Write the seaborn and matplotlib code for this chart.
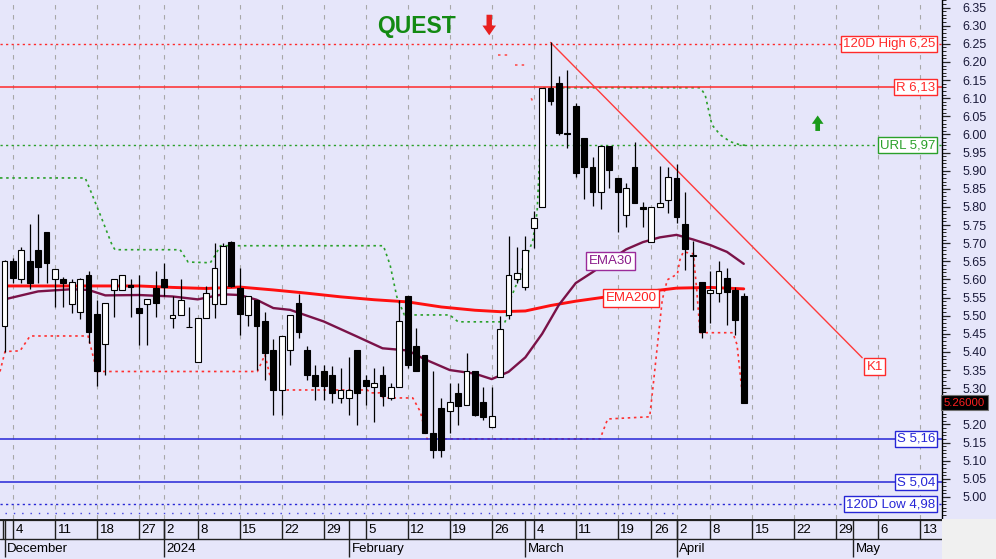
import numpy as np
import pandas as pd
import matplotlib
matplotlib.use("Agg")
import matplotlib.pyplot as plt
import matplotlib.ticker as mticker
import matplotlib.transforms as mtrans
from matplotlib.patches import Rectangle
import seaborn as sns

# ===============================
# Daten: Handelstage ab 01.12.2023 (Index 0), letzter Kurs 12.04.2024
# ===============================
opens = [5.472, 5.652, 5.601, 5.652, 5.680, 5.730, 5.600, 5.602, 5.532, 5.510,
         5.612, 5.505, 5.422, 5.571, 5.571, 5.585, 5.522, 5.532, 5.576, 5.602,
         5.493, 5.502, 5.468, 5.371, 5.493, 5.532, 5.532, 5.703, 5.576, 5.502,
         5.544, 5.484, 5.404, 5.295, 5.404, 5.534, 5.404, 5.337, 5.346, 5.337,
         5.272, 5.272, 5.404, 5.323, 5.304, 5.337, 5.272, 5.304, 5.553, 5.415,
         5.392, 5.176, 5.245, 5.236, 5.286, 5.254, 5.346, 5.262, 5.193, 5.331,
         5.502, 5.600, 5.580, 5.741, 5.801, 6.128, 6.141, 6.005, 6.079, 5.991,
         5.911, 5.840, 5.969, 5.881, 5.778, 5.911, 5.799, 5.702, 5.801, 5.818,
         5.879, 5.753, 5.665, 5.594, 5.562, 5.562, 5.603, 5.571, 5.553]
highs = [5.655, 5.660, 5.690, 5.753, 5.781, 5.730, 5.630, 5.606, 5.600, 5.605,
         5.624, 5.544, 5.534, 5.602, 5.612, 5.602, 5.612, 5.545, 5.624, 5.645,
         5.553, 5.602, 5.523, 5.493, 5.582, 5.700, 5.700, 5.707, 5.631, 5.553,
         5.544, 5.510, 5.435, 5.444, 5.502, 5.560, 5.415, 5.364, 5.364, 5.360,
         5.356, 5.387, 5.404, 5.337, 5.355, 5.360, 5.313, 5.544, 5.555, 5.465,
         5.392, 5.346, 5.272, 5.313, 5.313, 5.397, 5.346, 5.304, 5.304, 5.500,
         5.720, 5.690, 5.720, 5.790, 6.128, 6.254, 6.160, 6.178, 6.086, 5.991,
         5.939, 5.969, 5.969, 5.881, 5.865, 5.980, 5.815, 5.801, 5.912, 5.911,
         5.919, 5.842, 5.705, 5.594, 5.622, 5.650, 5.631, 5.580, 5.562]
lows = [5.401, 5.590, 5.590, 5.573, 5.590, 5.590, 5.523, 5.523, 5.507, 5.490,
        5.424, 5.306, 5.337, 5.496, 5.570, 5.496, 5.420, 5.420, 5.496, 5.553,
        5.465, 5.502, 5.468, 5.371, 5.493, 5.493, 5.532, 5.580, 5.447, 5.472,
        5.350, 5.323, 5.226, 5.226, 5.364, 5.438, 5.323, 5.268, 5.268, 5.258,
        5.258, 5.226, 5.199, 5.254, 5.208, 5.250, 5.268, 5.304, 5.355, 5.346,
        5.176, 5.107, 5.110, 5.176, 5.199, 5.254, 5.222, 5.212, 5.193, 5.330,
        5.490, 5.590, 5.570, 5.686, 5.800, 6.082, 5.999, 5.962, 5.882, 5.821,
        5.803, 5.794, 5.852, 5.732, 5.744, 5.812, 5.744, 5.702, 5.801, 5.783,
        5.757, 5.626, 5.516, 5.438, 5.479, 5.539, 5.475, 5.447, 5.260]
closes = [5.652, 5.603, 5.680, 5.590, 5.635, 5.646, 5.630, 5.590, 5.594, 5.602,
          5.456, 5.346, 5.534, 5.602, 5.612, 5.580, 5.507, 5.545, 5.534, 5.580,
          5.502, 5.543, 5.468, 5.493, 5.562, 5.631, 5.693, 5.582, 5.505, 5.553,
          5.472, 5.398, 5.295, 5.444, 5.502, 5.456, 5.337, 5.306, 5.306, 5.286,
          5.295, 5.295, 5.286, 5.306, 5.313, 5.277, 5.304, 5.484, 5.364, 5.346,
          5.176, 5.130, 5.130, 5.263, 5.250, 5.346, 5.226, 5.221, 5.224, 5.464,
          5.613, 5.617, 5.681, 5.769, 6.128, 6.091, 6.003, 6.001, 5.893, 5.911,
          5.842, 5.969, 5.902, 5.842, 5.852, 5.812, 5.795, 5.801, 5.812, 5.882,
          5.773, 5.683, 5.665, 5.456, 5.571, 5.622, 5.564, 5.487, 5.260]

ema200_idx = [0, 4, 8, 12, 16, 20, 24, 28, 32, 36, 40, 44, 48, 52, 56, 59, 62, 65, 68, 72, 76, 80, 84, 88]
ema200_val = [5.582, 5.582, 5.582, 5.582, 5.582, 5.578, 5.575, 5.579, 5.571, 5.562, 5.552, 5.544,
              5.538, 5.524, 5.515, 5.511, 5.513, 5.528, 5.540, 5.553, 5.565, 5.576, 5.578, 5.574]

ema30_idx = [0, 4, 8, 10, 12, 16, 20, 23, 26, 28, 30, 32, 34, 36, 38, 42, 45, 48, 50, 53, 56, 58,
             60, 62, 64, 66, 68, 70, 72, 74, 76, 78, 80, 82, 84, 86, 88]
ema30_val = [5.545, 5.567, 5.573, 5.571, 5.556, 5.557, 5.553, 5.545, 5.559, 5.557, 5.544, 5.521,
             5.516, 5.500, 5.484, 5.442, 5.410, 5.404, 5.380, 5.350, 5.340, 5.325,
             5.345, 5.385, 5.450, 5.530, 5.590, 5.620, 5.652, 5.683, 5.703, 5.716, 5.723,
             5.710, 5.695, 5.676, 5.643]

# obere Stop-Linie (gruen gepunktet)
upper_idx = [-0.54, 9.6, 10.2, 11.4, 12.8, 13.15, 20.9, 21.85, 24.5, 25.1, 25.7, 45.1, 45.9, 46.7,
             47.6, 53.0, 54.0, 59.6, 60.2, 61.4, 62.9, 63.4, 63.75, 64.1, 82.8, 83.4, 84.2,
             85.2, 86.4, 87.6, 88.3]
upper_val = [5.880, 5.880, 5.847, 5.778, 5.695, 5.682, 5.682, 5.648, 5.646, 5.668, 5.693, 5.693,
             5.640, 5.552, 5.502, 5.502, 5.483, 5.483, 5.544, 5.613, 5.709, 5.786, 5.957, 6.129,
             6.129, 6.110, 6.027, 5.999, 5.980, 5.971, 5.970]

# untere Stop-Linie (rot gepunktet)
lower_idx = [-0.54, 0.06, 1.85, 3.04, 9.94, 11.0, 30.1, 31.0, 32.0, 43.2, 43.5, 44.7, 45.1, 48.6,
             49.5, 50.3, 70.9, 71.8, 76.8, 77.2, 77.7, 78.3, 78.9, 80.1, 80.4, 80.8, 82.0, 82.4,
             82.8, 86.7, 87.2, 87.9]
lower_val = [5.346, 5.401, 5.403, 5.444, 5.444, 5.346, 5.346, 5.392, 5.295, 5.295, 5.287, 5.287,
             5.273, 5.273, 5.235, 5.160, 5.160, 5.215, 5.221, 5.304, 5.414, 5.544, 5.599, 5.615,
             5.654, 5.676, 5.671, 5.571, 5.453, 5.453, 5.420, 5.268]

# kurze rote Stuecke oben (Anfang Maerz)
top_frag_idx = [[58.8, 60.0], [60.8, 62.0], [62.7, 62.9]]
top_frag_val = [[6.220, 6.220], [6.192, 6.192], [6.100, 6.090]]

# Trendlinie K1
k1_idx = [65.0, 102.1]
k1_val = [6.254, 5.384]

# horizontale Marken: (Wert, Text, Farbe, Linienstil)
levels = [
    (6.25, "120D High 6,25", "#ff2a2a", "dot"),
    (6.13, "R 6,13", "#ff2a2a", "solid"),
    (5.97, "URL 5,97", "#2aa02a", "dot"),
    (5.16, "S 5,16", "#2626d6", "solid"),
    (5.04, "S 5,04", "#2626d6", "solid"),
    (4.98, "120D Low 4,98", "#2626d6", "dot"),
]
last_close = 5.26

# Zeitachse
week_pos = [1, 6, 11, 16, 19, 23, 28, 33, 38, 43, 48, 53, 58, 63, 68, 73, 77, 80, 84, 89, 94, 99, 104, 109]
week_lbl = ["4", "11", "18", "27", "2", "8", "15", "22", "29", "5", "12", "19", "26",
            "4", "11", "19", "26", "2", "8", "15", "22", "29", "6", "13"]
month_pos = [0, 19, 41, 62, 80, 101]
month_lbl = ["December", "2024", "February", "March", "April", "May"]

# ===============================
# Layout
# ===============================
BG = "#e6e6fa"
sns.set_style("white")
plt.rcParams["font.family"] = ["Liberation Sans", "DejaVu Sans"]

fig = plt.figure(figsize=(9.96, 5.59), dpi=100, facecolor=BG)
ax_w = 942 / 996
ax_b = 40 / 559
ax = fig.add_axes([0, ax_b, ax_w, 1 - ax_b])
ax.set_facecolor(BG)
xlim = (-0.54, 111.6)
ax.set_xlim(*xlim)
ax.set_ylim(4.939, 6.371)

for s in ["left", "top", "bottom"]:
    ax.spines[s].set_visible(False)
ax.spines["right"].set_color("black")
ax.spines["right"].set_linewidth(1.0)

# vertikales Gitter an den Wochenmarken
for p in week_pos:
    ax.axvline(p, color="#a8a8a8", lw=0.8, ls=(0, (4, 5)), zorder=0)


def price_fmt(v, pos):
    # 5.25 liegt unter dem Kursfeld und wird nicht beschriftet
    if abs(v - 5.25) < 1e-6:
        return ""
    return "%.2f" % v


# y-Achse rechts
ax.yaxis.tick_right()
ax.yaxis.set_major_locator(mticker.FixedLocator(np.arange(5.00, 6.351, 0.05)))
ax.yaxis.set_minor_locator(mticker.MultipleLocator(0.01))
ax.yaxis.set_major_formatter(mticker.FuncFormatter(price_fmt))
ax.tick_params(axis="y", which="major", direction="out", length=6, width=0.9, pad=9,
               labelsize=9, labelcolor="#1a1a3a", right=True, left=False)
ax.tick_params(axis="y", which="minor", direction="out", length=3, width=0.7, right=True, left=False)
ax.tick_params(axis="x", bottom=False, labelbottom=False)

trans = mtrans.blended_transform_factory(ax.transAxes, ax.transData)

# Marken-Linien
for val, txt, col, st in levels:
    ls = (0, (1.6, 2.4)) if st == "dot" else "-"
    ax.axhline(val, color=col, lw=1.1 if st == "solid" else 1.0, ls=ls, zorder=2)
    ax.text(0.9925, val, txt, transform=trans, ha="right", va="center", color=col, fontsize=9.5,
            bbox=dict(boxstyle="square,pad=0.15", fc="white", ec=col, lw=1.0), zorder=8)

# Punktreihe unten
ax.hlines(4.956, 0, 80, color="#4040e0", lw=1.0, ls=(0, (1, 5)), zorder=1)

# Stop-Linien
ax.plot(lower_idx, lower_val, color="#ff3030", lw=1.2, ls=(0, (1.5, 2.2)), zorder=1.5)
ax.plot(upper_idx, upper_val, color="#2aa02a", lw=1.2, ls=(0, (1.5, 2.2)), zorder=1.5)
for fx, fy in zip(top_frag_idx, top_frag_val):
    ax.plot(fx, fy, color="#ff5050", lw=1.2, ls=(0, (1.5, 2.5)), zorder=1.5)

# EMA-Linien
ema200 = pd.DataFrame({"idx": ema200_idx, "val": ema200_val})
ema30 = pd.DataFrame({"idx": ema30_idx, "val": ema30_val})
sns.lineplot(data=ema200, x="idx", y="val", ax=ax, color="#ff1010", lw=2.1, legend=False, zorder=3)
sns.lineplot(data=ema30, x="idx", y="val", ax=ax, color="#7a1248", lw=1.7, legend=False, zorder=3)
ax.set_xlabel("")
ax.set_ylabel("")

# Trendlinie K1
ax.plot(k1_idx, k1_val, color="#ff3a3a", lw=1.0, zorder=3)
ax.text(k1_idx[1] + 0.5, k1_val[1] - 0.025, "K1", ha="left", va="center", color="#ff2a2a", fontsize=9.5,
        bbox=dict(boxstyle="square,pad=0.2", fc="white", ec="#ff2a2a", lw=1.0), zorder=8)

# Kerzen
df = pd.DataFrame({"o": opens, "h": highs, "l": lows, "c": closes})
df["idx"] = np.arange(len(df))
rising = df["c"] >= df["o"]
body_lo = np.minimum(df["o"], df["c"])
body_h = np.maximum((df["c"] - df["o"]).abs(), 0.0012)
ax.vlines(df["idx"], df["l"], df["h"], color="black", lw=0.9, zorder=4)
ax.bar(df["idx"], body_h, bottom=body_lo, width=0.7,
       color=np.where(rising, "white", "black"), edgecolor="black", lw=0.8, zorder=5)

# EMA-Beschriftungen
ax.text(72.1, 5.651, "EMA30", ha="center", va="center", color="#8a1a8a", fontsize=9.5,
        bbox=dict(boxstyle="square,pad=0.2", fc="white", ec="#9a2a9a", lw=1.0), zorder=8)
ax.text(74.6, 5.549, "EMA200", ha="center", va="center", color="#ff2020", fontsize=9.5,
        bbox=dict(boxstyle="square,pad=0.2", fc="white", ec="#ff2020", lw=1.0), zorder=8)

# Titel und Pfeile
ax.text(49.0, 6.297, "QUEST", ha="center", va="center", color="#138a13", fontsize=16.5,
        fontweight="bold", zorder=8)
ax.annotate("", xy=(57.7, 6.266), xytext=(57.7, 6.338),
            arrowprops=dict(arrowstyle="simple,head_length=0.5,head_width=0.7,tail_width=0.28",
                            fc="#e82020", ec="none", mutation_scale=14), zorder=8)
ax.annotate("", xy=(96.8, 6.060), xytext=(96.8, 6.002),
            arrowprops=dict(arrowstyle="simple,head_length=0.5,head_width=0.7,tail_width=0.28",
                            fc="#1a9a1a", ec="none", mutation_scale=12), zorder=8)

# letzter Kurs
ax.text(1.002, last_close, "5.26000", transform=trans, ha="left", va="center", color="#ff2020",
        fontsize=8.2, bbox=dict(boxstyle="square,pad=0.22", fc="black", ec="#707070", lw=0.8),
        clip_on=False, zorder=10)

# ===============================
# Datumsachse
# ===============================
dax = fig.add_axes([0, 0, ax_w, ax_b])
dax.set_facecolor(BG)
dax.set_xlim(*xlim)
dax.set_ylim(0, 1)
dax.set_xticks([])
dax.set_yticks([])
for s in dax.spines.values():
    s.set_visible(False)
dax.axhline(0.975, color="#202020", lw=1.6)
dax.axhline(0.5, color="#202020", lw=1.0)
dax.vlines(week_pos, 0.5, 0.975, color="#202020", lw=1.0)
dax.vlines(month_pos, 0.05, 0.975, color="#202020", lw=1.0)
dax.vlines([-0.2], 0.5, 0.975, color="#202020", lw=1.0)
for p, t in zip(week_pos, week_lbl):
    dax.text(p + 0.3, 0.72, t, ha="left", va="center", fontsize=9.5, color="black")
for p, t in zip(month_pos, month_lbl):
    dax.text(p + 0.3, 0.26, t, ha="left", va="center", fontsize=9.5, color="black")

fig.patches.append(Rectangle((ax_w, 0), 1 - ax_w, ax_b, transform=fig.transFigure,
                             fc="#f0f0f0", ec="none", zorder=0))

fig.savefig("out.png", dpi=100, facecolor=BG)
